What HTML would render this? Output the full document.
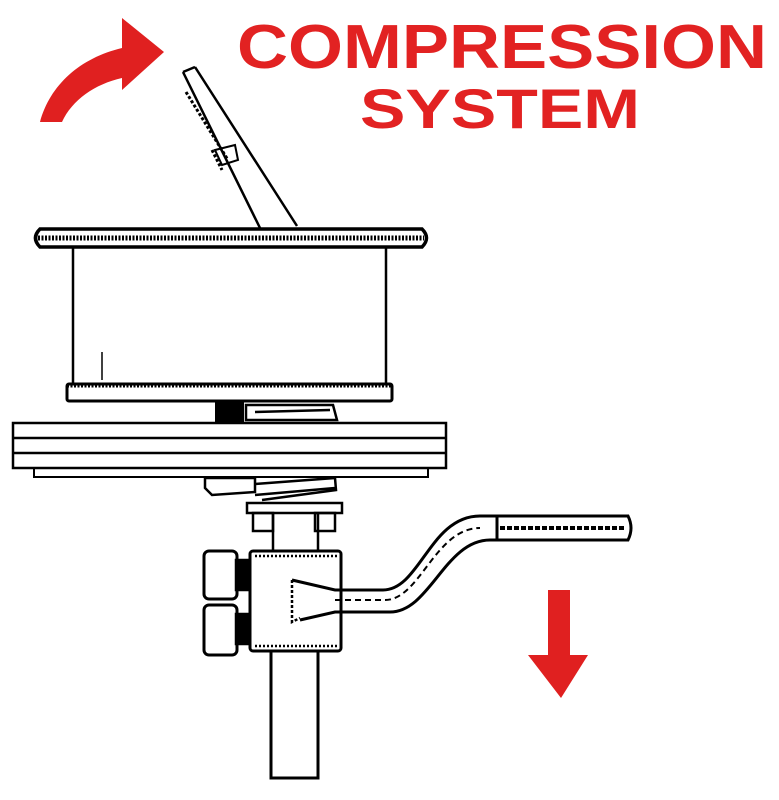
<!DOCTYPE html>
<html><head><meta charset="utf-8"><style>
html,body{margin:0;padding:0;background:#fff;}
svg{display:block}
</style></head><body>
<svg width="779" height="800" viewBox="0 0 779 800" xmlns="http://www.w3.org/2000/svg">
<path d="M40,122 C50,85 80,58 122,48 L122,18 L164,52 L122,90 L122,78 C95,84 72,100 62,122 Z" fill="#e02020"/>
<text x="237" y="68" font-family="Liberation Sans, sans-serif" font-weight="bold" font-size="62" fill="#e22222" textLength="530" lengthAdjust="spacingAndGlyphs">COMPRESSION</text>
<text x="360" y="128" font-family="Liberation Sans, sans-serif" font-weight="bold" font-size="56" fill="#e22222" textLength="280" lengthAdjust="spacingAndGlyphs">SYSTEM</text>
<g fill="none" stroke="#000" stroke-width="2.5">
<path d="M183,72 L260,228 M195,67 L297,226 M183,72 L195,67"/>
<path d="M186,92 L228,160 M212,150 L222,170" stroke-dasharray="3,2" stroke-width="3"/>
<path d="M215,150 L235,145 L238,160 L222,165 Z" stroke-width="2"/>
<path d="M40,229 L422,229 Q431,238 422,247 L40,247 Q31,238 40,229 Z" stroke-width="3.5"/>
<line x1="38" y1="238" x2="424" y2="238" stroke-dasharray="2,1.5" stroke-width="5"/>
<line x1="73" y1="246" x2="73" y2="384"/>
<line x1="386" y1="246" x2="386" y2="384"/>
<line x1="102" y1="352" x2="102" y2="380" stroke-width="1.5"/>
<rect x="67" y="384" width="325" height="17" rx="2" stroke-width="3"/>
<line x1="67" y1="386" x2="392" y2="386" stroke-dasharray="2,1.5" stroke-width="3"/>
<path d="M246,405 L333,405 L337,420 L246,420 Z M255,412 L330,410"/>
<rect x="13" y="423" width="433" height="45" stroke-width="2.5"/>
<line x1="13" y1="438" x2="446" y2="438" stroke-width="2.5"/>
<line x1="13" y1="453" x2="446" y2="453" stroke-width="2.5"/>
<rect x="34" y="468" width="394" height="9" stroke-width="2"/>
<path d="M205,478 L255,478 L255,492 L212,495 L205,488 Z"/>
<path d="M255,484 L335,478 L336,490 L262,500 M255,495 L335,488"/>
<rect x="247" y="503" width="95" height="10" stroke-width="2.5"/>
<rect x="253" y="513" width="20" height="18"/>
<rect x="315" y="513" width="20" height="18"/>
<line x1="273" y1="513" x2="273" y2="552"/>
<line x1="318" y1="513" x2="318" y2="552"/>
<rect x="250" y="551" width="91" height="100" rx="3" stroke-width="3"/>
<line x1="255" y1="556" x2="338" y2="556" stroke-dasharray="2,2"/>
<line x1="255" y1="646" x2="338" y2="646" stroke-dasharray="2,2"/>
<rect x="204" y="551" width="33" height="48" rx="5" stroke-width="3"/>
<rect x="204" y="605" width="33" height="50" rx="5" stroke-width="3"/>
<rect x="236" y="560" width="14" height="30" fill="#000"/>
<rect x="236" y="614" width="14" height="30" fill="#000"/>
<path d="M271,651 L271,778 L318,778 L318,651" stroke-width="3"/>
<path d="M292,580 L292,622 L300,618" stroke-dasharray="3,2"/>
<path d="M292,580 L335,590 L383,590 C420,590 430,516 480,516 L628,516 Q634,528 628,540 L490,540 C445,540 430,612 390,612 L335,612 L300,620" stroke-width="3"/>
<line x1="497" y1="516" x2="497" y2="540" stroke-width="3"/>
<line x1="500" y1="528" x2="625" y2="528" stroke-dasharray="5,2" stroke-width="4"/>
<path d="M335,600 L385,600 C420,600 435,528 480,528" stroke-dasharray="6,4" stroke-width="2"/>
</g>
<rect x="215" y="400" width="29" height="24" fill="#000"/>
<path d="M548,590 L570,590 L570,655 L588,655 L561,698 L528,655 L548,655 Z" fill="#e02020"/>
</svg>
</body></html>
